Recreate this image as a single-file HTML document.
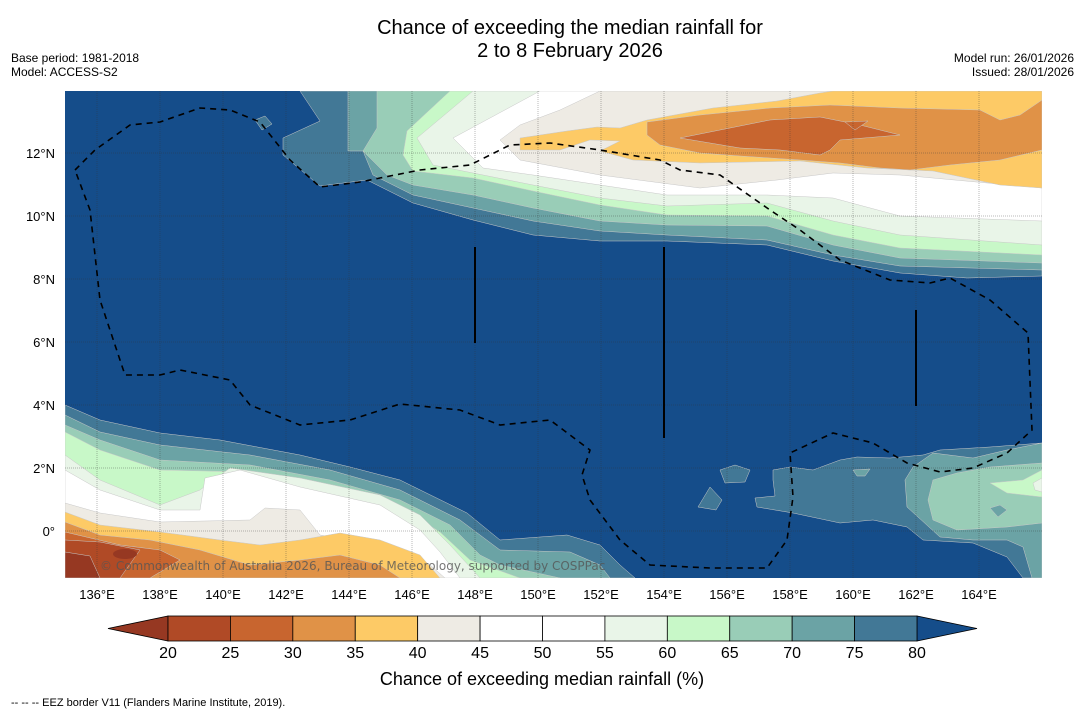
<!DOCTYPE html>
<html><head><meta charset="utf-8">
<style>
body{margin:0;background:#fff;width:1085px;height:713px;overflow:hidden;font-family:"Liberation Sans",sans-serif;}
svg{position:absolute;left:0;top:0}
</style></head>
<body>
<svg id="s" width="1085" height="713" viewBox="0 0 1085 713" xmlns="http://www.w3.org/2000/svg" font-family="Liberation Sans, sans-serif">
<text x="570" y="34" font-size="20" text-anchor="middle">Chance of exceeding the median rainfall for</text>
<text x="570" y="57" font-size="20" text-anchor="middle">2 to 8 February 2026</text>
<text x="11" y="62" font-size="12">Base period: 1981-2018</text>
<text x="11" y="76" font-size="12">Model: ACCESS-S2</text>
<text x="1074" y="62" font-size="12" text-anchor="end">Model run: 26/01/2026</text>
<text x="1074" y="76" font-size="12" text-anchor="end">Issued: 28/01/2026</text>
<defs><clipPath id="mc"><rect x="65" y="91" width="977" height="487"/></clipPath></defs>
<g id="map" clip-path="url(#mc)">
<rect x="65" y="91" width="977" height="487" fill="#154d8a"/>
</g>
<g id="axes"></g>
<g id="cbar"></g>
<text x="542" y="685" font-size="18" text-anchor="middle">Chance of exceeding median rainfall (%)</text>
<text x="11" y="706" font-size="11">--  --  -- EEZ border V11 (Flanders Marine Institute, 2019).</text>
</svg>
<script>
const levels=[20,25,30,35,40,45,50,55,60,65,70,75,80];
const bandColors=["#b04a26","#c8652f","#e09247","#fdca66","#eeebe4","#ffffff","#ffffff","#e9f5e8","#c8f8c8","#99cdb7","#6ba3a5","#427896"];
const underColor="#963822", overColor="#154d8a";
const lonTicks=[136,138,140,142,144,146,148,150,152,154,156,158,160,162,164];
const latTicks=[12,10,8,6,4,2,0];
const NS="http://www.w3.org/2000/svg";
const map=document.getElementById('map'),axes=document.getElementById('axes'),cb=document.getElementById('cbar');
function xLon(l){return 97+(l-136)*31.5;}
function yLat(l){return 531-l*31.5;}
function mk(p,tag,at){const e=document.createElementNS(NS,tag);for(const k in at)e.setAttribute(k,at[k]);p.appendChild(e);return e;}
function col(lv){return lv>=80?overColor:(lv<20?underColor:bandColors[levels.indexOf(lv)]);}
function poly(pts,lv,name){const e=mk(map,'polygon',{points:pts.map(p=>p.join(',')).join(' '),fill:col(lv),stroke:'#c8c8c8','stroke-width':'0.5'});

}
// north: each edge filled to top
const north=[
[75,[[300,91],[320,121],[283,138],[283,155],[320,186],[367,180],[413,203],[473,220],[533,235],[600,241],[667,241],[767,245],[833,261],[900,273],[967,278],[1042,276]]],
[70,[[348,91],[348,151],[363,151],[373,175],[413,195],[473,208],[533,221],[600,231],[667,235],[767,240],[833,255],[900,266],[1042,270]]],
[65,[[377,91],[377,128],[363,151],[387,175],[413,185],[473,195],[533,208],[600,221],[667,225],[767,226],[833,245],[900,258],[1042,263]]],
[60,[[450,91],[407,131],[403,155],[413,171],[473,178],[533,191],[600,205],[667,215],[767,216],[833,235],[900,248],[1042,255]]],
[55,[[473,91],[417,138],[433,165],[533,185],[600,198],[667,206],[767,203],[833,221],[900,235],[1042,245]]],
[50,[[540,91],[453,138],[483,168],[533,175],[600,185],[667,195],[767,195],[833,198],[900,216],[1042,221]]],
[40,[[600,91],[560,110],[520,125],[500,140],[520,160],[600,175],[700,188],[777,180],[833,173],[900,175],[1042,188]]]
];
north.forEach((b,i)=>{poly(b[1].concat([[1042,91]]),b[0],'north-band-'+i);});
poly([[520,138],[567,131],[597,127],[620,128],[647,120],[713,108],[777,101],[820,93],[833,91],[1042,91],[1042,188],[1000,185],[933,171],[867,168],[800,161],[700,163],[633,160],[600,151],[620,141],[590,140],[560,150],[520,150]],35,'north-orange-35');
poly([[647,122],[700,115],[770,108],[830,105],[900,108],[980,110],[1000,120],[1020,115],[1042,100],[1042,150],[1000,160],[950,165],[910,170],[880,168],[840,163],[800,160],[740,156],[700,153],[660,145],[647,135]],30,'north-orange-30');
poly([[680,138],[720,130],[770,120],[820,117],[860,125],[900,135],[840,140],[830,150],[820,155],[780,150],[740,148]],25,'north-orange-25');
poly([[845,122],[868,121],[855,130]],25,'north-orange-blob');
poly([[255,120],[265,116],[272,124],[262,130]],75,'north-blob');
// south-west
const sw=[
[75,[[65,405],[100,420],[160,433],[220,440],[300,455],[350,467],[400,480],[467,513],[500,540],[567,535],[600,545],[620,565],[635,578]]],
[70,[[65,415],[100,432],[160,445],[250,455],[330,470],[400,490],[460,520],[500,550],[570,552],[600,565],[610,578]]],
[65,[[65,425],[100,440],[160,460],[250,465],[330,480],[400,500],[450,525],[480,555],[500,565],[560,578]]],
[60,[[65,432],[100,450],[160,470],[250,472],[330,490],[400,507],[440,532],[470,560],[520,578]]],
[55,[[65,455],[100,480],[160,505],[200,490],[230,468],[300,478],[380,495],[420,515],[450,545],[480,578]]],
[50,[[65,470],[100,490],[160,510],[200,510],[205,478],[240,470],[300,487],[380,505],[420,530],[440,552],[460,578]]],
[40,[[65,503],[100,513],[160,522],[250,520],[265,508],[300,510],[320,535],[350,540],[400,548],[430,565],[445,578]]],
[35,[[65,512],[100,525],[160,532],[220,540],[260,545],[300,540],[340,533],[380,540],[420,555],[440,578]]],
[30,[[65,522],[100,535],[150,540],[200,550],[250,565],[300,560],[340,555],[380,565],[400,578]]],
[25,[[65,532],[120,545],[160,550],[180,560],[150,578]]],
[20,[[65,540],[100,542],[140,550],[120,578]]],
[15,[[65,552],[90,556],[100,578]]]
];
sw.forEach((b,i)=>{poly([[65,578]].concat(b[1]),b[0],'southwest-band-'+i);});
mk(map,'ellipse',{cx:125,cy:554,rx:12,ry:5,fill:underColor});
// south-east
poly([[773,470],[790,467],[813,470],[840,460],[857,457],[890,458],[923,455],[940,450],[990,447],[1042,443],[1042,578],[1023,578],[1007,557],[973,543],[923,540],[907,527],[873,520],[840,523],[793,513],[757,507],[755,498],[775,496],[773,480]],75,'southeast-band-75');
poly([[913,467],[933,453],[973,458],[1007,450],[1042,443],[1042,578],[1032,578],[1023,547],[1007,540],[973,540],[940,537],[907,507],[905,480]],70,'southeast-band-70');
poly([[933,480],[957,473],[990,467],[1042,463],[1042,523],[1007,527],[957,530],[933,520],[928,500]],65,'southeast-band-65');
poly([[990,483],[1023,480],[1042,470],[1042,497],[1007,493]],60,'southeast-band-60');
poly([[1033,483],[1042,478],[1042,492],[1035,490]],55,'southeast-band-55');
poly([[720,470],[735,465],[750,470],[745,482],[725,483]],75,'blob-a');
poly([[710,487],[722,500],[716,510],[698,507]],75,'blob-b');
poly([[853,470],[870,469],[865,476],[857,476]],70,'blob-c');
poly([[990,508],[1000,505],[1007,510],[998,517]],70,'blob-d');
// gridlines
lonTicks.forEach(l=>{mk(map,'line',{x1:xLon(l),x2:xLon(l),y1:91,y2:578,stroke:'#333','stroke-opacity':0.35,'stroke-width':1,'stroke-dasharray':'1,1'});});
latTicks.forEach(l=>{mk(map,'line',{x1:65,x2:1042,y1:yLat(l),y2:yLat(l),stroke:'#333','stroke-opacity':0.35,'stroke-width':1,'stroke-dasharray':'1,1'});});
// EEZ
const eez=[[75,170],[95,150],[130,125],[160,122],[200,108],[230,110],[260,122],[290,160],[320,187],[360,182],[420,170],[470,165],[510,145],[550,143],[600,150],[660,160],[680,170],[720,175],[770,210],[800,230],[840,260],[890,280],[930,283],[950,278],[990,300],[1028,333],[1032,430],[1007,453],[973,468],[940,472],[907,463],[873,443],[833,433],[790,453],[793,497],[787,540],[767,568],[710,568],[650,565],[620,540],[590,500],[582,475],[590,450],[550,420],[500,425],[460,410],[400,404],[350,420],[300,425],[250,405],[230,380],[180,370],[160,375],[125,375],[100,300],[90,210],[75,170]];
const ep=mk(map,'polyline',{points:eez.map(p=>p.join(',')).join(' '),fill:'none',stroke:'#000','stroke-width':1.6,'stroke-dasharray':'6,5'});


[[475,247,343],[664,247,438],[916,310,406]].forEach(v=>{mk(map,'line',{x1:v[0],x2:v[0],y1:v[1],y2:v[2],stroke:'#000','stroke-width':2});});
const at=mk(map,'text',{x:100,y:570,'font-size':12,fill:'#555','fill-opacity':0.8,'font-family':'DejaVu Sans, sans-serif'});
at.textContent='© Commonwealth of Australia 2026, Bureau of Meteorology, supported by COSPPac';


// axis labels
lonTicks.forEach(l=>{const t=mk(axes,'text',{x:xLon(l),y:599,'font-size':13,'text-anchor':'middle'});t.textContent=l+'°E';

});
latTicks.forEach(l=>{const t=mk(axes,'text',{x:55,y:yLat(l)+5,'font-size':13,'text-anchor':'end'});t.textContent=l===0?'0°':l+'°N';

});
// colorbar
const cx0=168,cx1=917,cy0=616,cy1=641,w=(cx1-cx0)/bandColors.length;
const lt=mk(cb,'polygon',{points:`108,628.5 ${cx0},${cy0} ${cx0},${cy1}`,fill:underColor,stroke:'#000','stroke-width':0.8});


const rt=mk(cb,'polygon',{points:`977,628.5 ${cx1},${cy0} ${cx1},${cy1}`,fill:overColor,stroke:'#000','stroke-width':0.8});


bandColors.forEach((c,i)=>{const r=mk(cb,'rect',{x:cx0+i*w,y:cy0,width:w,height:cy1-cy0,fill:c,stroke:'#000','stroke-width':0.8});

});
levels.forEach((l,i)=>{const t=mk(cb,'text',{x:cx0+i*w,y:658,'font-size':16,'text-anchor':'middle'});t.textContent=l;

});
</script>
</body></html>
